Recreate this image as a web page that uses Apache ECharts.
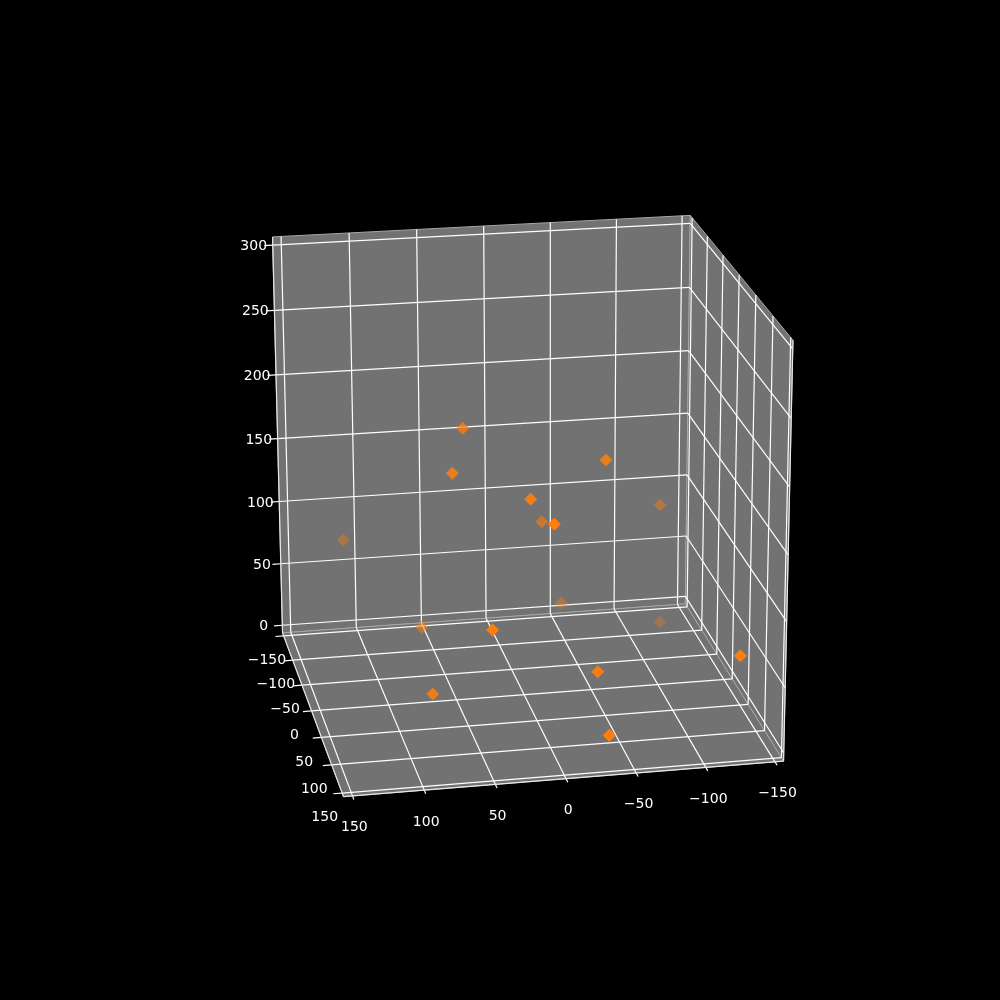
<!DOCTYPE html><html><head><meta charset="utf-8"><style>html,body{margin:0;background:#000}#c{width:1000px;height:1000px}</style>
<script src="https://cdn.jsdelivr.net/npm/echarts@6/dist/echarts.min.js"></script></head><body><div id="c"></div><script>
// Data
const xTicks=[150,100,50,0,-50,-100,-150];
const yTicks=[-150,-100,-50,0,50,100,150];
const zTicks=[0,50,100,150,200,250,300];
const xValues=[49.4,62.4,11.1,-16.2,-0.7,118.8,-46.9,-114.4,-44.4,-125.7,70.0,43.0,-37.1,77.9,-40.4,-134.9];
const yValues=[31.4,62.9,84.9,-15.7,110.0,-84.9,62.9,-62.9,-84.9,-110.0,-31.4,110.0,84.9,62.9,110.0,110.0];
const zValues=[214.2,192.4,177.3,122.4,166.9,92.6,194.9,111.7,30.0,-1.1,40.2,91.1,43.1,26.3,4.0,57.7];

// Camera fitted to the picture: maps the axis box to the page
const CAM=[[-0.42909,0.07908,-0.00189,0.04744],[0.02825,0.14476,-0.40776,-0.01085],[-0.0112,-0.04715,-0.019,1]];
const S=156.25, LOX=-156.25, HIX=156.25, LOY=-156.25, HIY=156.25, LOZ=-6.25, HIZ=306.25, TICK=6.25;
function project(x,y,z){
  const X=x/S,Y=y/S,Z=(z-150)/S,d=v=>v[0]*X+v[1]*Y+v[2]*Z+v[3],w=d(CAM[2]);
  return [500*(d(CAM[0])/w+1),500*(d(CAM[1])/w+1)];
}
const fmt=v=>String(v).replace('-','\u2212');
const seg=(a,b)=>[...project(...a),...project(...b)];

const panes=[
  [[HIX,LOY,LOZ],[LOX,LOY,LOZ],[LOX,LOY,HIZ],[HIX,LOY,HIZ]],
  [[LOX,LOY,LOZ],[LOX,HIY,LOZ],[LOX,HIY,HIZ],[LOX,LOY,HIZ]],
  [[HIX,LOY,LOZ],[LOX,LOY,LOZ],[LOX,HIY,LOZ],[HIX,HIY,LOZ]]
].map(p=>p.map(c=>project(...c)));

const grid=[];
xTicks.forEach(x=>{grid.push(seg([x,LOY,LOZ],[x,HIY,LOZ]),seg([x,LOY,LOZ],[x,LOY,HIZ]));});
yTicks.forEach(y=>{grid.push(seg([HIX,y,LOZ],[LOX,y,LOZ]),seg([LOX,y,LOZ],[LOX,y,HIZ]));});
zTicks.forEach(z=>{grid.push(seg([HIX,LOY,z],[LOX,LOY,z]),seg([LOX,LOY,z],[LOX,HIY,z]));});
xTicks.forEach(x=>grid.push(seg([x,HIY,LOZ],[x,HIY+TICK,LOZ])));
yTicks.forEach(y=>grid.push(seg([HIX,y,LOZ],[HIX+TICK,y,LOZ])));
zTicks.forEach(z=>grid.push(seg([HIX,LOY,z],[HIX+TICK,LOY,z])));
const axisLines=[seg([HIX,HIY,LOZ],[LOX,HIY,LOZ]),seg([HIX,LOY,LOZ],[HIX,HIY,LOZ]),seg([HIX,LOY,LOZ],[HIX,LOY,HIZ]),seg([LOX,HIY,LOZ],[LOX,HIY,HIZ])];

const yMin=Math.min(...yValues),yMax=Math.max(...yValues);
const points=xValues.map((x,i)=>({value:project(x,yValues[i],zValues[i]),y:yValues[i],
  itemStyle:{opacity:0.3+0.7*(yValues[i]-yMin)/(yMax-yMin)}})).sort((a,b)=>a.y-b.y);

function labels(ticks,end,dx,dy){
  return {type:'scatter',symbolSize:0,silent:true,z:6,
    data:ticks.map(t=>{const p=project(...end(t));return {value:[p[0]+dx,p[1]+dy],name:fmt(t)};}),
    label:{show:true,position:'inside',formatter:o=>o.name,color:'#ffffff',opacity:1,textBorderWidth:0,textShadowBlur:0,fontFamily:'DejaVu Sans',fontSize:14,align:'center',verticalAlign:'middle'},
    itemStyle:{color:'#ffffff',opacity:1}};
}
function segSeries(data,color,width,z){
  return {type:'custom',coordinateSystem:'cartesian2d',silent:true,z,data,clip:false,encode:{x:[0,2],y:[1,3]},
    renderItem:(_,api)=>{const a=api.coord([api.value(0),api.value(1)]),b=api.coord([api.value(2),api.value(3)]);
      return {type:'line',shape:{x1:a[0],y1:a[1],x2:b[0],y2:b[1]},style:{stroke:color,lineWidth:width}};}};
}
const chart=echarts.init(document.getElementById('c'),null,{renderer:'canvas',width:1000,height:1000});
chart.setOption({
  backgroundColor:'#000',animation:false,tooltip:{show:false},
  grid:{left:0,right:0,top:0,bottom:0},
  xAxis:{type:'value',min:0,max:1000,show:false},
  yAxis:{type:'value',min:0,max:1000,inverse:true,show:false},
  series:[
    {type:'custom',coordinateSystem:'cartesian2d',silent:true,z:1,clip:false,data:panes.map((p,i)=>[p[0][0],p[0][1],i]),
     renderItem:(params,api)=>{const p=panes[params.dataIndex].map(c=>api.coord(c));
       return {type:'polygon',shape:{points:p},style:{fill:'#727272',stroke:'#a8a8a8',lineWidth:1}};}},
    segSeries(grid,'#ffffff',1.2,2),
    segSeries(axisLines,'#e6e6e6',1.2,3),
    {type:'scatter',symbol:'diamond',symbolSize:13,z:5,silent:true,data:points,itemStyle:{color:'#ff7f0e'}},
    labels(xTicks,t=>[t,HIY+TICK,LOZ],0.5,28.2),
    labels(yTicks,t=>[HIX+TICK,t,LOZ],-8.5,23.8),
    labels(zTicks,t=>[HIX+TICK,LOY,t],-10.5,1)
  ]
});
</script></body></html>
